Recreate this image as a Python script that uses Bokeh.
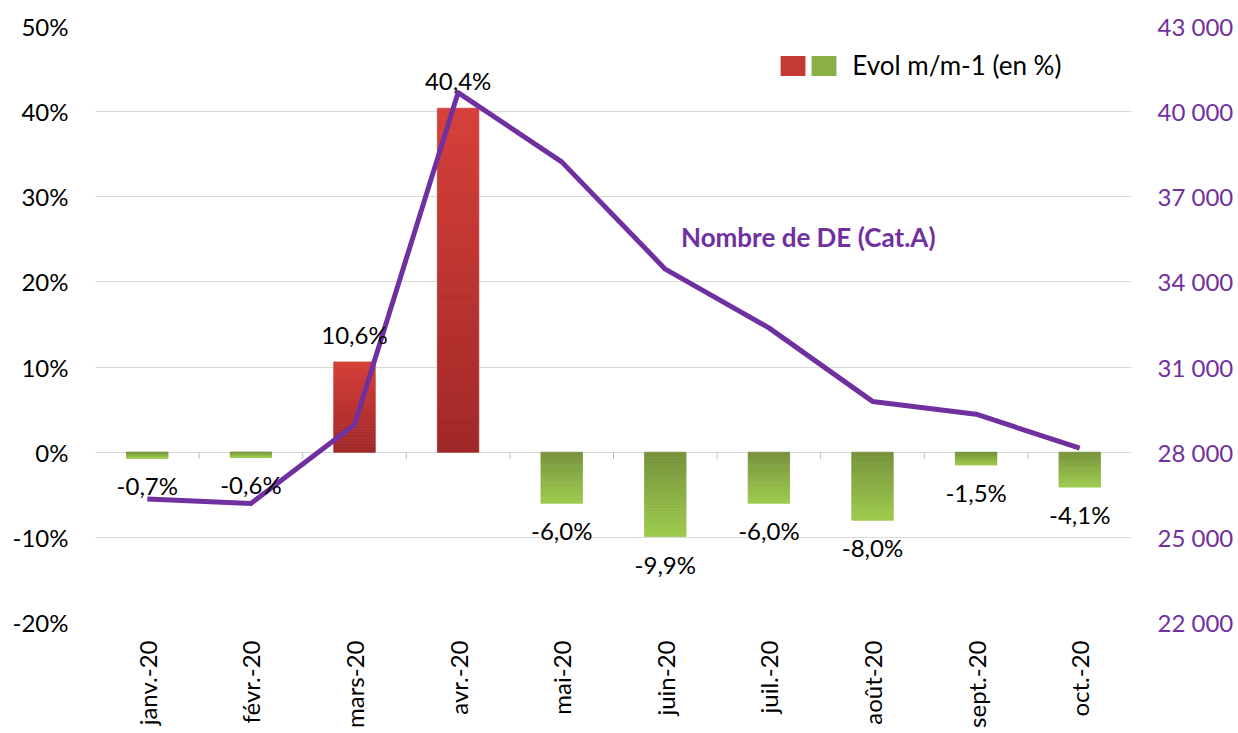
import math
from bokeh.plotting import figure
from bokeh.models import (ColumnDataSource, Range1d, FactorRange, LinearAxis, Legend,
                          LegendItem, Label, FixedTicker)
from bokeh.core.properties import value
from bokeh.embed import file_html
from bokeh.resources import INLINE

# ---------------- data ----------------
months = ["janv.-20", "févr.-20", "mars-20", "avr.-20", "mai-20",
          "juin-20", "juil.-20", "août-20", "sept.-20", "oct.-20"]
evol = [-0.7, -0.6, 10.6, 40.4, -6.0, -9.9, -6.0, -8.0, -1.5, -4.1]
nb_de = [26350, 26190, 28970, 40670, 38230, 34450, 32380, 29790, 29340, 28140]
left_ticks = [-20, -10, 0, 10, 20, 30, 40, 50]
right_ticks = [22000, 25000, 28000, 31000, 34000, 37000, 40000, 43000]

FONT = "Lato"
PURPLE = "#7030a0"

p = figure(x_range=FactorRange(*months, range_padding=0), y_range=Range1d(-20, 50),
           width=1238, height=733, output_backend="svg", toolbar_location=None,
           min_border_left=95, min_border_right=107, min_border_top=26, min_border_bottom=111)
p.extra_y_ranges = {"right": Range1d(22000, 43000)}
p.outline_line_color = None
p.background_fill_color = "white"
p.border_fill_color = "white"

# grid
p.xgrid.grid_line_color = None
p.ygrid.grid_line_color = "#d9d9d9"
p.ygrid.grid_line_width = 1
p.yaxis.ticker = FixedTicker(ticks=left_ticks)

# ---------------- gradient bars ----------------
N = 30
def lerp(c0, c1, t):
    return "#%02x%02x%02x" % tuple(int(round(a + (b - a) * t)) for a, b in zip(c0, c1))

pos_base, pos_end = (160, 40, 40), (214, 64, 58)
neg_base, neg_end = (118, 146, 60), (158, 203, 78)
xs, tops, bottoms, cols = [], [], [], []
for m, v in zip(months, evol):
    for k in range(N):
        t = (k + 0.5) / N
        xs.append(m)
        bottoms.append(v * k / N)
        tops.append(v * (k + 1) / N)
        cols.append(lerp(pos_base, pos_end, t) if v >= 0 else lerp(neg_base, neg_end, t))
bars = ColumnDataSource(dict(x=xs, top=tops, bottom=bottoms, c=cols))
p.vbar(x="x", top="top", bottom="bottom", width=0.4, source=bars,
       fill_color="c", line_color="c", line_width=0.8)

# small tick marks on the zero line between categories
p.segment(x0=list(range(1, len(months))), x1=list(range(1, len(months))),
          y0=[0] * (len(months) - 1), y1=[-0.8] * (len(months) - 1),
          line_color="#bfbfbf", line_width=1)

# ---------------- line (right axis) ----------------
p.line(x=months, y=nb_de, y_range_name="right", line_color=PURPLE, line_width=5,
       line_join="round")

# ---------------- bar labels ----------------
lab_txt = [("%.1f%%" % v).replace(".", ",") for v in evol]
lab_base = ["bottom" if v >= 0 else "top" for v in evol]
lab_off = [-13 if v >= 0 else 13 for v in evol]
lsrc = ColumnDataSource(dict(x=months, y=evol, t=lab_txt, b=lab_base, o=lab_off))
p.text(x="x", y="y", text="t", source=lsrc, text_align="center", text_baseline="b",
       y_offset="o", text_font=value(FONT), text_font_size="24px", text_color="black")

# line title
p.add_layout(Label(x=6.88, y=35600, y_range_name="right", text="Nombre de DE (Cat.A)",
                   text_font=FONT, text_font_size="26px", text_font_style="bold",
                   text_color=PURPLE, text_align="center", text_baseline="middle"))

# ---------------- axes ----------------
ya = p.yaxis[0]
ya.axis_line_color = None
ya.major_tick_line_color = None
ya.minor_tick_line_color = None
ya.major_tick_out = 0
ya.major_tick_in = 0
ya.minor_tick_out = 0
ya.major_label_overrides = {t: "%d%%" % t for t in left_ticks}
ya.major_label_text_font = FONT
ya.major_label_text_font_size = "24px"
ya.major_label_text_color = "black"
ya.major_label_standoff = 27

ry = LinearAxis(y_range_name="right", ticker=FixedTicker(ticks=right_ticks))
ry.axis_line_color = None
ry.major_tick_line_color = None
ry.minor_tick_line_color = None
ry.major_tick_out = 0
ry.major_tick_in = 0
ry.minor_tick_out = 0
ry.major_label_overrides = {t: "{:,}".format(t).replace(",", " ") for t in right_ticks}
ry.major_label_text_font = FONT
ry.major_label_text_font_size = "24px"
ry.major_label_text_color = PURPLE
ry.major_label_standoff = 26
p.add_layout(ry, "right")

xa = p.xaxis[0]
xa.axis_line_color = None
xa.major_tick_line_color = None
xa.minor_tick_line_color = None
xa.major_tick_out = 0
xa.major_tick_in = 0
xa.minor_tick_out = 0
xa.major_label_orientation = math.pi / 2
xa.major_label_text_font = FONT
xa.major_label_text_font_size = "24px"
xa.major_label_text_color = "black"
xa.major_label_standoff = 18

# ---------------- legend ----------------
r_red = p.vbar(x=[months[0]], top=[0], bottom=[0], width=0.0, fill_color="#c33a34",
               line_color=None)
r_green = p.vbar(x=[months[0]], top=[0], bottom=[0], width=0.0, fill_color="#8ab045",
                 line_color=None)
legend = Legend(items=[LegendItem(label="", renderers=[r_red]),
                       LegendItem(label="\u00a0\u00a0Evol m/m-1 (en %)", renderers=[r_green])],
                orientation="horizontal", location=(682, 541), spacing=0,
                label_standoff=0, label_width=0, glyph_width=31, glyph_height=25,
                padding=0, margin=0, border_line_color=None, background_fill_alpha=0,
                label_text_font=FONT, label_text_font_size="26px", label_text_color="black")
p.add_layout(legend)

open("out.html", "w").write(file_html(p, INLINE))
